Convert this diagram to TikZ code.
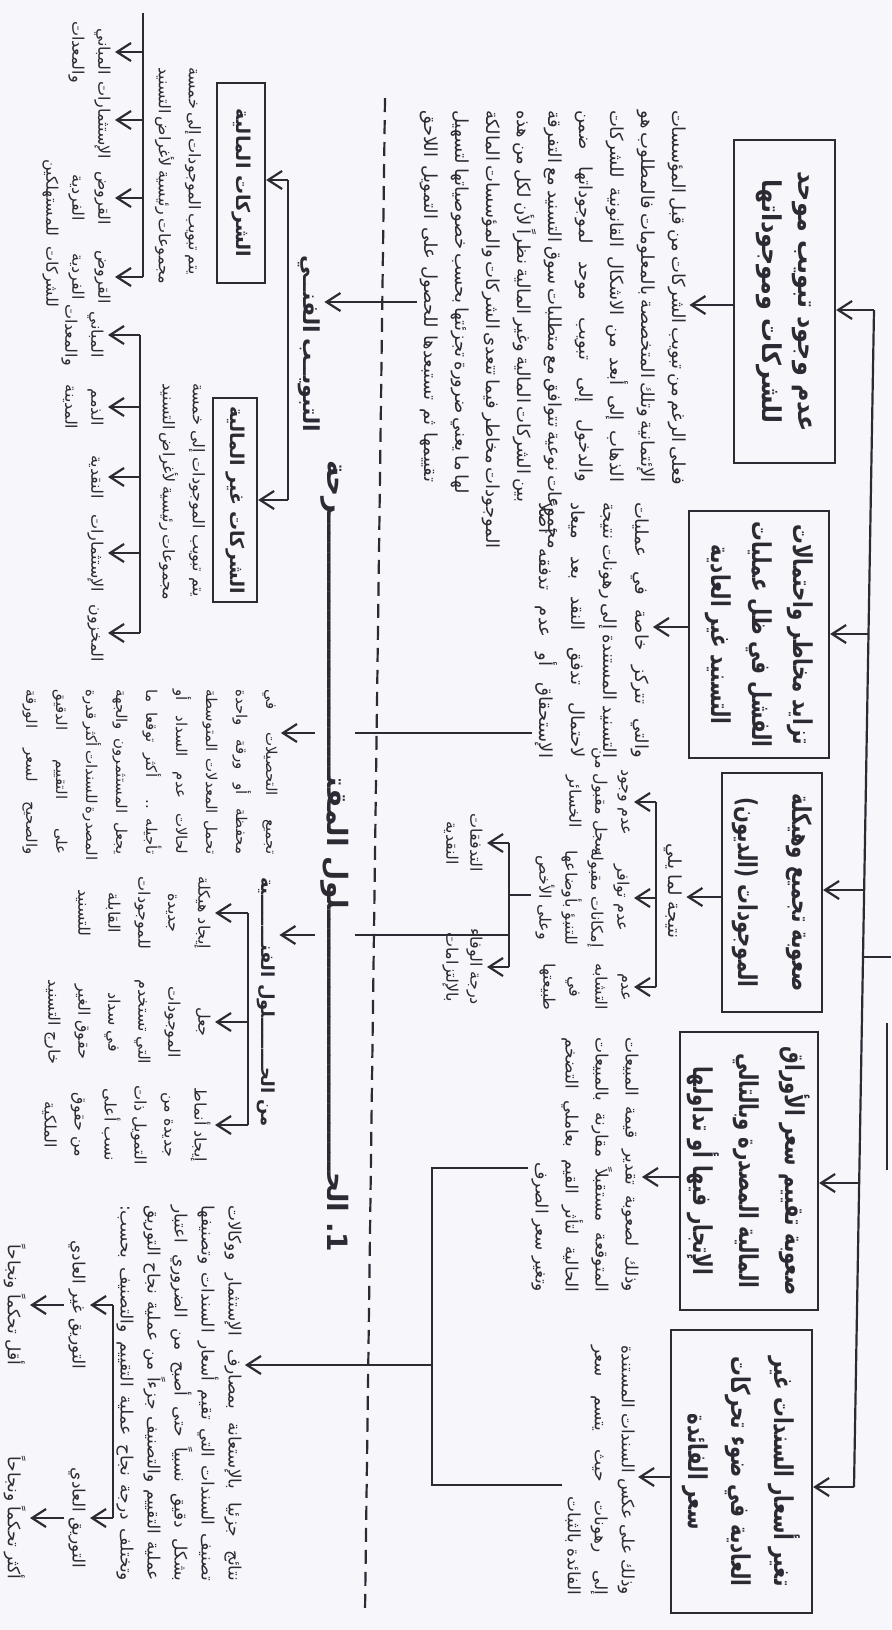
\documentclass[tikz,border=0pt]{standalone}
\usepackage{fontspec}
\newfontfamily\arabicfont[Script=Arabic]{DejaVu Sans}
\newfontfamily\arabicnarrow[Script=Arabic, FakeStretch=0.76]{DejaVu Sans}
\newfontfamily\arabicmid[Script=Arabic, FakeStretch=0.92]{DejaVu Sans}
\TeXXeTstate=1
\usetikzlibrary{arrows.meta}
\definecolor{ink}{RGB}{45,42,52}
\definecolor{bg}{RGB}{246,246,251}
\hbadness=10000 \hfuzz=200pt \vbadness=10000
\newcommand\AR[1]{\beginR #1\endR}
\newlength\ARw
\newcommand\JL[1]{\hbox to\ARw{\beginR #1\endR}}
\newcommand\RL[1]{\hbox to\ARw{\hfil\beginR #1\endR}}
\newcommand\fs[2]{\arabicfont\fontsize{#1}{#2}\selectfont}
\newcommand\fn[2]{\arabicnarrow\fontsize{#1}{#2}\selectfont}
\newcommand\fm[2]{\arabicmid\fontsize{#1}{#2}\selectfont}
\newcommand\kash{\xleaders\hbox{ـ}\hfill}
\tikzset{
  ln/.style={draw=ink, line width=1.1pt},
  ar/.style={ln, -{Straight Barb[length=7pt,width=9pt]}},
  dashln/.style={draw=ink, line width=1.1pt, dash pattern=on 7pt off 4pt},
  rot/.style={rotate=-90, inner sep=1.5pt, text=ink},
  boxn/.style={rot, draw=ink, line width=1.1pt, align=center, inner sep=0pt},
  item/.style={rot, inner sep=2pt, align=center, font=\fs{8}{13}},
}
\begin{document}
\begin{tikzpicture}[x=0.5pt,y=-0.5pt]
\fill[bg] (0,0) rectangle (891,1630);
\useasboundingbox (0,0) rectangle (891,1630);

% dashed separator
\coordinate (d1) at (385,98); \coordinate (d2) at (365,1612);
\draw[dashln] (d1) -- (d2);

% ---------- problem boxes ----------
\node[boxn, minimum width=161.5pt, minimum height=50.5pt, font=\fm{13}{18}\bfseries] (B1) at (784.5,301.5)
  {\AR{عدم وجود تبويب موحد}\\\AR{للشركات وموجوداتها}};
\node[boxn, minimum width=123.5pt, minimum height=70pt, font=\fn{13}{20.5}\bfseries] (B2) at (759,634.5)
  {\AR{تزايد مخاطر واحتمالات}\\\AR{الفشل في ظل عمليات}\\\AR{التسنيد غير العادية}};
\node[boxn, minimum width=119.5pt, minimum height=50pt, font=\fn{13}{27}\bfseries] (B3) at (772,892.5)
  {\AR{صعوبة تجميع وهيكلة}\\\AR{الموجودات (الديون)}};
\node[boxn, minimum width=139pt, minimum height=69pt, font=\fn{13}{23}\bfseries] (B4) at (749,1171)
  {\AR{صعوبة تقييم سعر الأوراق}\\\AR{المالية المصدرة وبالتالي}\\\AR{الإتجار فيها أو تداولها}};
\node[boxn, minimum width=141.5pt, minimum height=70.5pt, font=\fn{13}{21.5}\bfseries] (B5) at (741.5,1471.5)
  {\AR{تغير أسعار السندات غير}\\\AR{العادية في ضوء تحركات}\\\AR{سعر الفائدة}};

% main feeding line
\coordinate (m1) at (874,310); \coordinate (m2) at (868.5,634); \coordinate (m3) at (864,890);
\coordinate (mx) at (863,957); \coordinate (m4) at (859,1183); \coordinate (m5) at (854,1487);
\coordinate (mr) at (891,957);
\draw[ln] (m1) -- (m5);
\draw[ln] (mx) -- (mr);
\coordinate (e1) at (887,1023); \coordinate (e2) at (887,1170);
\draw[ln] (e1) -- (e2);
\draw[ar] (m1) -- (B1.north |- m1);
\draw[ar] (m2) -- (B2.north |- m2);
\draw[ar] (m3) -- (B3.north |- m3);
\draw[ar] (m4) -- (B4.north |- m4);
\draw[ar] (m5) -- (B5.north |- m5);

% ---------- explanations ----------
\node[rot, font=\fs{9}{15.5}] (P1) at (553,296) {\setlength\ARw{186pt}\vbox{%
\JL{فعلى الرغم من تبويب الشركات من قبل المؤسسات}
\JL{الإئتمانية وتلك المتخصصة بالمعلومات فالمطلوب هو}
\JL{الذهاب إلى أبعد من الاشكال القانونية للشركات}
\JL{والدخول إلى تبويب موحد لموجوداتها ضمن}
\JL{مجموعات نوعية تتوافق مع متطلبات سوق التسنيد مع التفرقة}
\JL{بين الشركات المالية وغير المالية نظراً لأن لكل من هذه}
\JL{الموجودات مخاطر فيما تتعدى الشركات والمؤسسات المالكة}
\JL{لها ما يعني ضرورة تجزئتها بحسب خصوصياتها لتسهيل}
\JL{تقييمها ثم تستبعدها للحصول على التمويل اللاحق}}};
\draw[ar] (B1.south |- 0,305) -- (P1.north |- 0,305);

\node[rot, font=\fs{9}{16}] (P2) at (592.5,630) {\setlength\ARw{128pt}\vbox{%
\JL{والتي تتركز خاصة في عمليات}
\JL{التسنيد المستندة إلى رهونات نتيجة}
\JL{لاحتمال تدفق النقد بعد ميعاد}
\JL{الإستحقاق أو عدم تدفقه أصلاً}}};
\draw[ar] (B2.south |- 0,627) -- (P2.north |- 0,627);

\node[rot, inner sep=2pt, font=\fs{9}{12}] (N3) at (673,891) {\AR{نتيجة لما يلي}};
\draw[ar] (B3.south |- 0,897) -- (N3.north |- 0,897);
\coordinate (k31) at (656,802); \coordinate (k32) at (656,898); \coordinate (k33) at (656,987);
\draw[ln] (k31) -- (k33);
\node[item, anchor=north] (I3a) at (634,802) {\AR{عدم وجود}\\\AR{سجل مقبول من}\\\AR{الخسائر}};
\node[item, anchor=north] (I3b) at (634,898) {\AR{عدم توافر}\\\AR{إمكانات مقبولة}\\\AR{للتنبؤ بأوضاعها}\\\AR{وعلى الأخص}};
\node[item, anchor=north] (I3c) at (634,987) {\AR{عدم}\\\AR{التشابه}\\\AR{في}\\\AR{طبيعتها}};
\draw[ar] (k31) -- (I3a.north);
\draw[ar] (k32) -- (I3b.north);
\draw[ar] (k33) -- (I3c.north);

\coordinate (k41) at (509,843); \coordinate (k42) at (509,895); \coordinate (k43) at (509,967); \coordinate (k44) at (509,935);
\draw[ln] (k41) -- (k43);
\draw[ln] (k42) -- (I3b.south |- k42);
\node[item, anchor=north, font=\fs{8}{12}] (CF) at (487,843) {\AR{التدفقات}\\\AR{النقدية}};
\node[item, anchor=north, font=\fs{8}{12}] (DW) at (487,967) {\AR{درجة الوفاء}\\\AR{بالإلتزامات}};
\draw[ar] (k41) -- (CF.north);
\draw[ar] (k43) -- (DW.north);

\node[rot, font=\fs{8.5}{15}] (P4) at (585,1164.5) {\setlength\ARw{127.5pt}\vbox{%
\JL{وذلك لصعوبة تقدير قيمة المبيعات}
\JL{المتوقعة مستقبلاً مقارنة بالمبيعات}
\JL{الحالية لتأثر القيم بعاملي التضخم}
\RL{وتغير سعر الصرف}}};
\draw[ar] (B4.south |- 0,1177) -- (P4.north |- 0,1177);

\node[rot, font=\fs{8.5}{13.5}] (P5) at (600,1470) {\setlength\ARw{125pt}\vbox{%
\JL{وذلك على عكس السندات المستندة}
\JL{إلى رهونات حيث يتسم سعر}
\RL{الفائدة بالثبات}}};
\draw[ar] (B5.south |- 0,1477) -- (P5.north |- 0,1477);

\coordinate (k51) at (432,1168); \coordinate (k52) at (432,1485); \coordinate (k53) at (432,1365);
\draw[ln] (P4.south |- k51) -- (k51) -- (k52) -- (P5.south |- k52);

% ---------- left half ----------
\node[rot, font=\fs{7.5}{15}] (P6) at (150,772) {\setlength\ARw{82.5pt}\vbox{%
\JL{تجميع التحصيلات في}
\JL{محفظة أو ورقة واحدة}
\JL{تحمل المعدلات المتوسطة}
\JL{لحالات عدم السداد أو}
\JL{تأجيله .. أكثر توقعا ما}
\JL{يجعل المستثمرون والجهة}
\JL{المصدرة للسندات أكثر قدرة}
\JL{على التقييم الدقيق}
\JL{والصحيح لسعر الورقة}}};
\draw[ar] (P2.south |- 0,733) -- (P6.north |- 0,733);

\node[rot, inner sep=2pt, font=\fs{9}{12}\bfseries] (T2) at (266,1002) {\hbox to 125pt{\beginR من الحـ\kash ـلول الفنـ\kash ـية\endR}};
\draw[ar] (k44) -- (T2.north |- k44);
\coordinate (s1) at (248,913); \coordinate (s2) at (248,1022); \coordinate (s3) at (248,1125);
\draw[ln] (s1) -- (s3);
\node[item, anchor=north, font=\fs{8}{15}] (S1) at (215,913) {\AR{إيجاد هيكلة}\\\AR{جديدة}\\\AR{للموجودات}\\\AR{القابلة}\\\AR{للتسنيد}};
\node[item, anchor=north, font=\fs{8}{15}] (S2) at (215,1022) {\AR{جعل}\\\AR{الموجودات}\\\AR{التي تستخدم}\\\AR{في سداد}\\\AR{حقوق الغير}\\\AR{خارج التسنيد}};
\node[item, anchor=north, font=\fs{8}{15}] (S3) at (215,1125) {\AR{إيجاد أنماط}\\\AR{جديدة من}\\\AR{التمويل ذات}\\\AR{نسب أعلى}\\\AR{من حقوق}\\\AR{الملكية}};
\draw[ar] (s1) -- (S1.north);
\draw[ar] (s2) -- (S2.north);
\draw[ar] (s3) -- (S3.north);

\node[rot, font=\fs{8.5}{13.5}] (P7) at (179,1393) {\setlength\ARw{188pt}\vbox{%
\JL{نتائج جزئيا بالإستعانة بمصارف الإستثمار ووكالات}
\JL{تصنيف السندات التي تقيم أسعار السندات وتصنيفها}
\JL{بشكل دقيق نسبياً حتى أصبح من الضروري اعتبار}
\JL{عملية التقييم والتصنيف جزءاً من عملية نجاح التوريق}
\JL{وتختلف درجة نجاح عملية التقييم والتصنيف بحسب:}}};
\draw[ar] (k53) -- (P7.north |- k53);

\coordinate (g1) at (113,1305); \coordinate (g2) at (113,1518);
\draw[ln] (g1) -- (g2);
\node[item, anchor=north, font=\fs{8.5}{12}] (G1) at (90,1305) {\AR{التوريق غير العادي}};
\node[item, anchor=north, font=\fs{8.5}{12}] (G2) at (90,1518) {\AR{التوريق العادي}};
\draw[ar] (g1) -- (G1.north);
\draw[ar] (g2) -- (G2.north);
\node[item, anchor=north, font=\fs{8.5}{12}] (H1) at (30,1305) {\AR{أقل تحكماً ونجاحاً}};
\node[item, anchor=north, font=\fs{8.5}{12}] (H2) at (30,1518) {\AR{أكثر تحكماً ونجاحاً}};
\draw[ar] (G1.south) -- (H1.north);
\draw[ar] (G2.south) -- (H2.north);

% technical classification
\node[rot, inner sep=2pt, font=\fs{11}{13}\bfseries] (T1) at (309,342) {\hbox to 87pt{\beginR التبويـ\kash ـب الفنـ\kash ـي\endR}};
\draw[ar] (P1.south |- 0,302) -- (T1.north |- 0,302);
\coordinate (v1) at (288,180); \coordinate (v2) at (288,500);
\draw[ln] (v1) -- (v2);
\node[boxn, minimum width=100pt, minimum height=24pt, font=\fs{9.5}{12}\bfseries] (BF) at (241,183) {\AR{الشركات المالية}};
\node[boxn, minimum width=102pt, minimum height=22pt, font=\fs{9.5}{12}\bfseries] (BN) at (235,500) {\AR{الشركات غير المالية}};
\draw[ar] (v1) -- (BF.north |- v1);
\draw[ar] (v2) -- (BN.north |- v2);

\node[rot, font=\fs{8}{15}] (TF) at (178,170) {\setlength\ARw{103pt}\vbox{%
\JL{يتم تبويب الموجودات إلى خمسة}
\JL{مجموعات رئيسية لأغراض التسنيد}}};
\node[rot, font=\fs{8}{15}] (TN) at (182,490) {\setlength\ARw{107pt}\vbox{%
\JL{يتم تبويب الموجودات إلى خمسة}
\JL{مجموعات رئيسية لأغراض التسنيد}}};

\coordinate (f0) at (143,13); \coordinate (f1) at (143,52); \coordinate (f2) at (143,120);
\coordinate (f3) at (143,198); \coordinate (f4) at (143,277);
\draw[ln] (f0) -- (f4);
\node[item, anchor=north] (F1) at (115,52) {\AR{المباني}\\\AR{والمعدات}};
\node[item, anchor=north] (F2) at (115,120) {\AR{الإستثمارات}};
\node[item, anchor=north] (F3) at (115,198) {\AR{القروض}\\\AR{الفردية}\\\AR{للمستهلكين}};
\node[item, anchor=north] (F4) at (115,277) {\AR{القروض}\\\AR{الفردية}\\\AR{للشركات}};
\draw[ar] (f1) -- (F1.north);
\draw[ar] (f2) -- (F2.north);
\draw[ar] (f3) -- (F3.north);
\draw[ar] (f4) -- (F4.north);

\coordinate (n1) at (140,335); \coordinate (n2) at (140,407); \coordinate (n3) at (140,477);
\coordinate (n4) at (140,553); \coordinate (n5) at (140,633);
\draw[ln] (n1) -- (n5);
\node[item, anchor=north] (N1) at (108,335) {\AR{المباني}\\\AR{والمعدات}};
\node[item, anchor=north] (N2) at (108,407) {\AR{الذمم}\\\AR{المدينة}};
\node[item, anchor=north] (N3i) at (108,477) {\AR{النقدية}};
\node[item, anchor=north] (N4) at (108,553) {\AR{الإستثمارات}};
\node[item, anchor=north] (N5) at (108,633) {\AR{المخزون}};
\draw[ar] (n1) -- (N1.north);
\draw[ar] (n2) -- (N2.north);
\draw[ar] (n3) -- (N3i.north);
\draw[ar] (n4) -- (N4.north);
\draw[ar] (n5) -- (N5.north);

% big title (masks the connectors it crosses)
\node[rot, fill=bg, inner sep=3pt, font=\fs{14}{16}\bfseries] (T0) at (335,856)
  {\hbox to 396pt{\beginR\beginL 1.\endL\ الحـ\kash ـلول المقتـ\kash ـرحة\endR}};
\end{tikzpicture}
\end{document}
